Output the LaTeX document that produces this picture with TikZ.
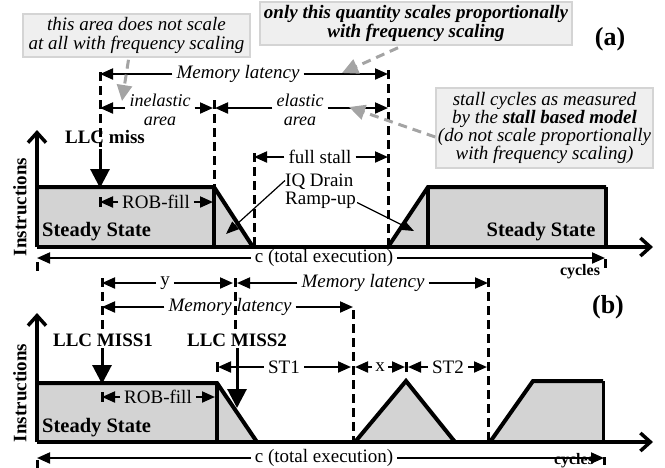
\documentclass[tikz,border=0pt]{standalone}
\usepackage{fontspec}
\setmainfont{Liberation Serif}
\usetikzlibrary{arrows.meta}
\definecolor{profilegray}{HTML}{D3D3D3}
\definecolor{notefill}{HTML}{EFEFEF}
\definecolor{noteedge}{HTML}{D4D4D4}
\definecolor{pointer}{HTML}{A4A4A4}
\tikzset{
  x=1pt, y=-1pt,
  btxt/.style={font=\fontsize{19}{19}\selectfont\bfseries, inner sep=0pt},
  sstxt/.style={font=\fontsize{20.5}{20}\selectfont\bfseries, inner sep=0pt},
  lab/.style={font=\fontsize{19}{16}\selectfont, inner xsep=4pt, inner ysep=0pt, align=center},
  ilab/.style={lab, font=\fontsize{19}{16}\selectfont\itshape},
  pairlab/.style={lab, font=\fontsize{18}{18.5}\selectfont\itshape},
  dim/.style={line width=2pt, -{Triangle[length=13pt,width=11pt]}},
  tickmark/.style={line width=3pt},
  vdash/.style={line width=3pt, dash pattern=on 9pt off 5pt},
  edge/.style={line width=4pt, line join=miter},
  wall/.style={line width=3.5pt},
  axis/.style={line width=3.5pt, -{Straight Barb[length=10pt,width=18pt]}},
  miss/.style={line width=3pt, -{Triangle[length=19pt,width=19pt]}},
  note/.style={draw=noteedge, fill=notefill, line width=1.5pt, align=center, inner sep=0pt,
               font=\fontsize{19}{18.5}\selectfont\itshape},
  ptr/.style={draw=pointer, line width=3pt, dash pattern=on 9pt off 6pt,
              -{Triangle[length=16pt,width=15pt,fill=pointer]}},
  thin/.style={line width=1.2pt, -{Triangle[length=13pt,width=10pt]}},
  axlab/.style={font=\fontsize{16}{16}\selectfont\bfseries, inner sep=0pt},
}
\begin{document}
\begin{tikzpicture}
\useasboundingbox (0,0) rectangle (665,467);

% ================= (a): single miss =================
% shaded instruction-rate profile
\fill[profilegray] (37,187) -- (214,187) -- (253,247) -- (37,247) -- cycle;
\fill[profilegray] (388,247) -- (428,187) -- (606,187) -- (606,247) -- cycle;
\draw[edge] (37,187) -- (214,187) -- (253,247);
\draw[wall] (214,187) -- (214,247);
\draw[edge] (388,247) -- (428,187) -- (606,187);
\draw[wall] (428,187) -- (428,247);
\draw[wall] (606,187) -- (606,247);

% axes
\coordinate (oA) at (37,247);
\coordinate (yA) at (37,130);
\coordinate (xA) at (653,247);
\draw[axis] (oA) -- (yA);
\draw[axis] (oA) -- (xA);
\node[btxt, rotate=90] (insA) at (20,207) {Instructions};
\node[axlab] (cycA) at (580,272) {cycles};

\node[sstxt, anchor=west] (ssA1) at (42,232) {Steady State};
\node[sstxt] (ssA2) at (541,232) {Steady State};

% dashed markers
\draw[vdash] (100,72) -- (100,147);
\draw[vdash] (214,100) -- (214,187);
\draw[vdash] (254,153) -- (254,247);
\draw[vdash] (388,70) -- (388,247);

\node[btxt] (missA) at (105,137) {LLC miss};
\draw[miss] (100,149) -- (100,188);

% dimension lines
\node[ilab] (mlA) at (238,74) {Memory latency};
\draw[dim] (mlA.west) -- (100,74);
\draw[dim] (mlA.east) -- (388,74);

\node[pairlab] (inel) at (160,110) {inelastic\\area};
\draw[dim] (inel.west |- 0,108) -- (100,108);
\draw[dim] (inel.east |- 0,108) -- (213,108);

\node[pairlab] (elas) at (300,110) {elastic\\area};
\draw[dim] (elas.west |- 0,108) -- (215,108);
\draw[dim] (elas.east |- 0,108) -- (388,108);

\node[lab] (fst) at (320,157) {full stall};
\draw[dim] (fst.west) -- (254,157);
\draw[dim] (fst.east) -- (388,157);

\node[lab] (robA) at (156,202) {ROB-fill};
\draw[tickmark] (100,197) -- (100,207);
\draw[dim] (robA.west) -- (100,202);
\draw[dim] (robA.east) -- (213,202);

\node[lab] (totA) at (324,258) {c (total execution)};
\draw[tickmark] (37,262) -- (37,271);
\draw[tickmark] (605,259) -- (605,268);
\draw[dim] (totA.west) -- (37,258);
\draw[dim] (totA.east) -- (605,258);

% drain / ramp callout
\node[lab, align=left, anchor=west, inner xsep=0pt, font=\fontsize{19}{18}\selectfont] (iq) at (285,191) {IQ Drain\\Ramp-up};
\draw[thin] (iq.north west) ++(0,7) -- (226,234);
\draw[thin] (iq.south east) ++(1,-6) -- (414,231);

% notes
\node[note, minimum width=227, minimum height=43] (n1) at (136.5,35.5)
  {this area does not scale\\at all with frequency scaling};
\node[note, minimum width=312, minimum height=43, font=\fontsize{19}{19.5}\selectfont\bfseries\itshape] (n2) at (416,23.5)
  {only this quantity scales proportionally\\with frequency scaling};
\node[note, minimum width=217, minimum height=80, font=\fontsize{19}{18}\selectfont\itshape] (n3) at (544.5,128)
  {stall cycles as measured\\by the \textbf{stall based model}\\(do not scale proportionally\\with frequency scaling)};
\draw[ptr] (n1.south) ++(-8,2) -- (122,101);
\draw[ptr] (n2.south) ++(-18,2) -- (342,73);
\draw[ptr] (n3.west) ++(0,9) -- (349,107);

\node[font=\fontsize{26}{26}\selectfont\bfseries, inner sep=0pt] (tagA) at (610,39) {(a)};

% ================= (b): overlapping misses =================
\fill[profilegray] (37,383) -- (217,383) -- (257,442) -- (37,442) -- cycle;
\fill[profilegray] (355,442) -- (406,381) -- (455,442) -- cycle;
\fill[profilegray] (490,442) -- (533,381) -- (603,381) -- (603,442) -- cycle;
\draw[edge] (37,383) -- (217,383) -- (257,442);
\draw[wall] (217,383) -- (217,442);
\draw[edge] (355,442) -- (406,381) -- (455,442);
\draw[edge] (490,442) -- (533,381) -- (603,381);
\draw[line width=3pt] (603,381) -- (603,442);

\coordinate (oB) at (37,442);
\coordinate (yB) at (37,313);
\coordinate (xB) at (653,442);
\draw[axis] (oB) -- (yB);
\draw[axis] (oB) -- (xB);
\node[btxt, rotate=90] (insB) at (20,393) {Instructions};
\node[axlab] (cycB) at (574,461) {cycles};

\node[sstxt, anchor=west] (ssB) at (42,428) {Steady State};

% dashed markers
\draw[vdash] (102,278) -- (102,330);
\draw[vdash] (235,278) -- (235,330);
\draw[vdash] (353,310) -- (353,442);
\draw[vdash] (488,278) -- (488,442);

\node[btxt] (m1) at (103,340) {LLC MISS1};
\node[btxt] (m2) at (237,340) {LLC MISS2};
\draw[miss] (102,348) -- (102,384);
\draw[miss] (237,348) -- (237,408);

% dimension lines
\node[lab] (ylab) at (165,283) {y};
\draw[dim] (ylab.west) -- (102,283);
\draw[dim] (ylab.east) -- (233,283);

\node[ilab] (mlB2) at (363,283) {Memory latency};
\draw[dim] (mlB2.west) -- (237,283);
\draw[dim] (mlB2.east) -- (488,283);

\node[ilab] (mlB1) at (230,307) {Memory latency};
\draw[dim] (mlB1.west) -- (102,307);
\draw[dim] (mlB1.east) -- (353,307);

\draw[tickmark] (217,362) -- (217,372);
\draw[tickmark] (406,362) -- (406,372);
\node[lab] (st1) at (284,367) {ST1};
\draw[dim] (st1.west) -- (218,367);
\draw[dim] (st1.east) -- (351,367);
\node[lab, inner xsep=3pt] (xlab) at (380,367) {x};
\draw[dim] (xlab.west) -- (355,367);
\draw[dim] (xlab.east) -- (405,367);
\node[lab] (st2) at (448,367) {ST2};
\draw[dim] (st2.west) -- (408,367);
\draw[dim] (st2.east) -- (487,367);

\node[lab] (robB) at (158,397) {ROB-fill};
\draw[tickmark] (102,392) -- (102,402);
\draw[dim] (robB.west) -- (102,397);
\draw[dim] (robB.east) -- (215,397);

\node[lab] (totB) at (324,458) {c (total execution)};
\draw[tickmark] (37,460) -- (37,468);
\draw[tickmark] (604,457) -- (604,465);
\draw[dim] (totB.west) -- (37,458);
\draw[dim] (totB.east) -- (604,458);

\node[font=\fontsize{26}{26}\selectfont\bfseries, inner sep=0pt] (tagB) at (608,307) {(b)};
\end{tikzpicture}
\end{document}
